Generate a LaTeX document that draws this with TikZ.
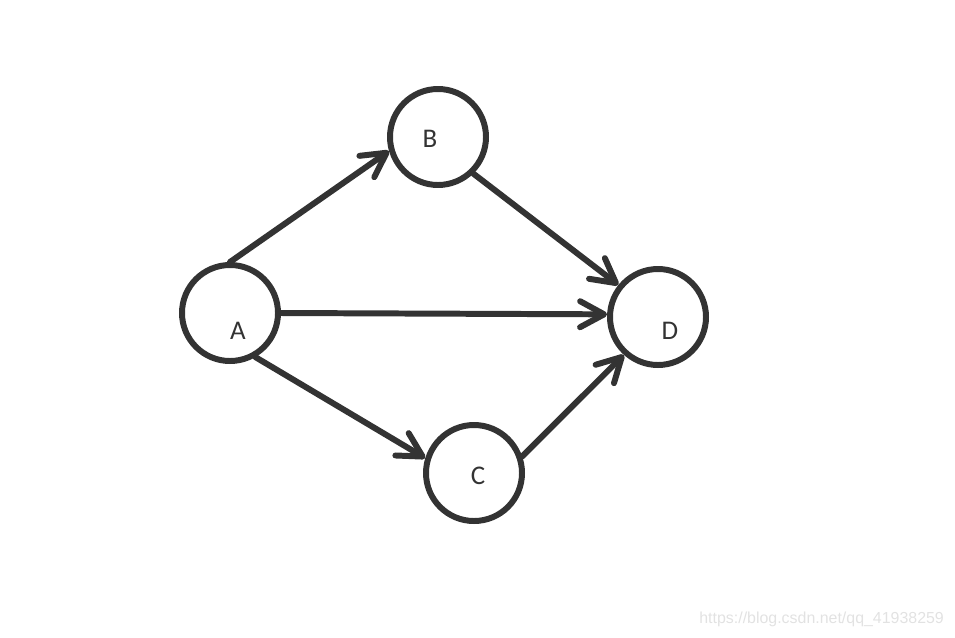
\documentclass[tikz,border=0pt]{standalone}
\usepackage{fontspec}
\setmainfont{Carlito}
\newfontfamily\markfont{Liberation Sans}
\usetikzlibrary{arrows.meta,positioning,calc}
\definecolor{ink}{HTML}{333333}
\definecolor{wm}{HTML}{E2E2E2}

\tikzset{
  vertex/.style={circle,draw=ink,line width=5.1pt,minimum size=2.88cm,inner sep=0pt},
  vlabel/.style={font=\fontsize{23}{26}\selectfont,text=ink},
  edge/.style={ink,line width=5.1pt,line cap=round,
    -{Straight Barb[length=0.72cm,width=0.78cm,round]}}
}

\begin{document}
\begin{tikzpicture}[x=0.03cm,y=-0.03cm]
  \useasboundingbox (0,0) rectangle (955,637);
  % vertices
  \node[vertex] (A) at (230,313) {};
  \node[vertex] (B) at (438,137) {};
  \node[vertex] (C) at (474,473) {};
  \node[vertex] (D) at (658,317) {};
  % labels, a little off centre as in the sketch
  \node[vlabel] (lA) at (238,331) {A};
  \node[vlabel] (lB) at (430,139) {B};
  \node[vlabel] (lC) at (478,476) {C};
  \node[vlabel] (lD) at (670,331) {D};
  % edges
  \draw[edge] (A.90) -- (B.196);
  \draw[edge] (A.0) -- (D.177);
  \draw[edge] (A.-60) -- (C.163);
  \draw[edge] (B.-46) -- (D.141);
  \draw[edge] (C.19) -- (D.228);
  % watermark
  \node[text=wm,font=\markfont\fontsize{13.6}{15}\selectfont,anchor=east] (mark) at (948,619) {https://blog.csdn.net/qq\_41938259};
\end{tikzpicture}
\end{document}
